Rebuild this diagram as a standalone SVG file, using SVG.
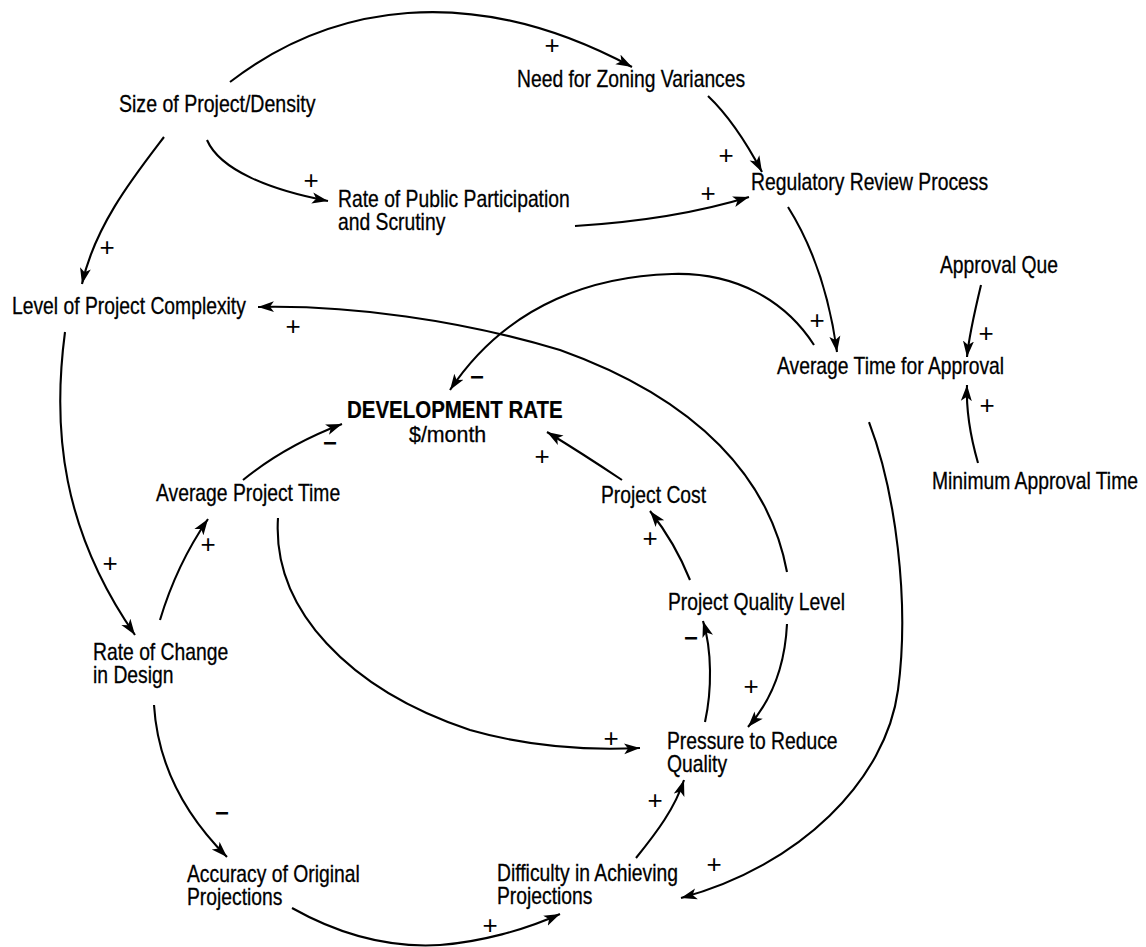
<svg xmlns="http://www.w3.org/2000/svg" width="1146" height="947" viewBox="0 0 1146 947">
  <style>
    .lbl { font-family: "Liberation Sans", Arial, sans-serif; font-size: 23px; fill: #000; stroke: #000; stroke-width: 0.3; }
    .bold { font-weight: bold; stroke-width: 0.2; }
    .plus { font-family: "Liberation Sans", Arial, sans-serif; font-size: 26px; fill: #000; text-anchor: middle; }
    .minus { font-family: "Liberation Sans", Arial, sans-serif; font-size: 24px; font-weight: bold; fill: #000; text-anchor: middle; }
    .link { fill: none; stroke: #000; stroke-width: 2.1; marker-end: url(#arrow); }
  </style>
  <defs>
    <marker id="arrow" markerUnits="userSpaceOnUse" markerWidth="18" markerHeight="13" refX="16" refY="6" orient="auto">
      <path d="M0,0.5 L16,6 L0,11.5 L4,6 Z" fill="#000"/>
    </marker>
  </defs>
  <rect width="1146" height="947" fill="#fff"/>

  <!-- causal links -->
  <g id="connectors">
    <path class="link" d="M230,82 C330,5 470,-20 632,67"/>
    <path class="link" d="M207,140 C220,170 270,190 328,201"/>
    <path class="link" d="M164,137 C135,175 95,225 82,284"/>
    <path class="link" d="M708,96 C728,115 745,140 762,172"/>
    <path class="link" d="M575,226 C640,222 700,212 749,197"/>
    <path class="link" d="M788,207 C815,250 830,300 837,352"/>
    <path class="link" d="M981,285 C975,310 969,335 967,357"/>
    <path class="link" d="M978,463 C970,435 966,410 967,385"/>
    <path class="link" d="M814,345 C785,300 735,272 672,274 C600,276 510,300 450,390"/>
    <path class="link" d="M787,572 C770,480 700,400 560,350 C460,320 350,305 258,307"/>
    <path class="link" d="M65,332 C52,430 62,530 135,635"/>
    <path class="link" d="M160,620 C172,580 188,548 208,519"/>
    <path class="link" d="M243,480 C270,458 300,440 342,424"/>
    <path class="link" d="M622,480 C595,462 570,446 547,432"/>
    <path class="link" d="M690,580 C680,555 665,530 650,511"/>
    <path class="link" d="M705,722 C712,690 712,650 703,621"/>
    <path class="link" d="M787,624 C785,665 772,700 748,727"/>
    <path class="link" d="M278,518 C272,610 350,690 470,730 C540,750 600,750 640,748"/>
    <path class="link" d="M636,858 C657,832 675,808 684,780"/>
    <path class="link" d="M869,422 C895,490 910,600 898,690 C886,780 800,866 681,898"/>
    <path class="link" d="M154,705 C158,770 190,820 227,857"/>
    <path class="link" d="M292,908 C340,935 390,948 440,945 C480,942 525,930 560,914"/>
  </g>

  <!-- polarity signs -->
  <g id="signs">
    <text class="plus" x="552" y="54">+</text>
    <text class="plus" x="311" y="189">+</text>
    <text class="plus" x="107" y="256">+</text>
    <text class="plus" x="726" y="164">+</text>
    <text class="plus" x="708" y="202">+</text>
    <text class="plus" x="817" y="329">+</text>
    <text class="plus" x="986" y="342">+</text>
    <text class="plus" x="987" y="414">+</text>
    <text class="plus" x="293" y="335">+</text>
    <text class="minus" x="477" y="385">−</text>
    <text class="minus" x="330" y="451">−</text>
    <text class="plus" x="542" y="465">+</text>
    <text class="plus" x="650" y="547">+</text>
    <text class="plus" x="208" y="553">+</text>
    <text class="plus" x="110" y="572">+</text>
    <text class="minus" x="691" y="646">−</text>
    <text class="plus" x="751" y="695">+</text>
    <text class="plus" x="611" y="747">+</text>
    <text class="plus" x="655" y="809">+</text>
    <text class="minus" x="222" y="821">−</text>
    <text class="plus" x="714" y="873">+</text>
    <text class="plus" x="490" y="934">+</text>
  </g>

  <!-- variables -->
  <g id="size-of-project"><text class="lbl" transform="translate(119 112) scale(0.85 1)">Size of Project/Density</text></g>
  <g id="need-for-zoning"><text class="lbl" transform="translate(517 87) scale(0.84 1)">Need for Zoning Variances</text></g>
  <g id="public-participation">
    <text class="lbl" transform="translate(338 207) scale(0.84 1)">Rate of Public Participation</text>
    <text class="lbl" transform="translate(338 230) scale(0.84 1)">and Scrutiny</text>
  </g>
  <g id="regulatory-review"><text class="lbl" transform="translate(751 190) scale(0.84 1)">Regulatory Review Process</text></g>
  <g id="project-complexity"><text class="lbl" transform="translate(12 314) scale(0.84 1)">Level of Project Complexity</text></g>
  <g id="approval-que"><text class="lbl" transform="translate(940 273) scale(0.84 1)">Approval Que</text></g>
  <g id="avg-time-approval"><text class="lbl" transform="translate(777 374) scale(0.84 1)">Average Time for Approval</text></g>
  <g id="min-approval-time"><text class="lbl" transform="translate(932 489) scale(0.84 1)">Minimum Approval Time</text></g>
  <g id="development-rate">
    <text class="lbl bold" transform="translate(347 418) scale(0.89 1)">DEVELOPMENT RATE</text>
    <text class="lbl" transform="translate(409 442) scale(0.93 1)">$/month</text>
  </g>
  <g id="avg-project-time"><text class="lbl" transform="translate(156 501) scale(0.84 1)">Average Project Time</text></g>
  <g id="project-cost"><text class="lbl" transform="translate(601 503) scale(0.84 1)">Project Cost</text></g>
  <g id="project-quality"><text class="lbl" transform="translate(668 610) scale(0.84 1)">Project Quality Level</text></g>
  <g id="rate-of-change">
    <text class="lbl" transform="translate(93 660) scale(0.84 1)">Rate of Change</text>
    <text class="lbl" transform="translate(93 683) scale(0.84 1)">in Design</text>
  </g>
  <g id="pressure-quality">
    <text class="lbl" transform="translate(667 749) scale(0.84 1)">Pressure to Reduce</text>
    <text class="lbl" transform="translate(667 772) scale(0.84 1)">Quality</text>
  </g>
  <g id="accuracy-projections">
    <text class="lbl" transform="translate(187 882) scale(0.84 1)">Accuracy of Original</text>
    <text class="lbl" transform="translate(187 905) scale(0.84 1)">Projections</text>
  </g>
  <g id="difficulty-projections">
    <text class="lbl" transform="translate(497 881) scale(0.84 1)">Difficulty in Achieving</text>
    <text class="lbl" transform="translate(497 904) scale(0.84 1)">Projections</text>
  </g>
</svg>
